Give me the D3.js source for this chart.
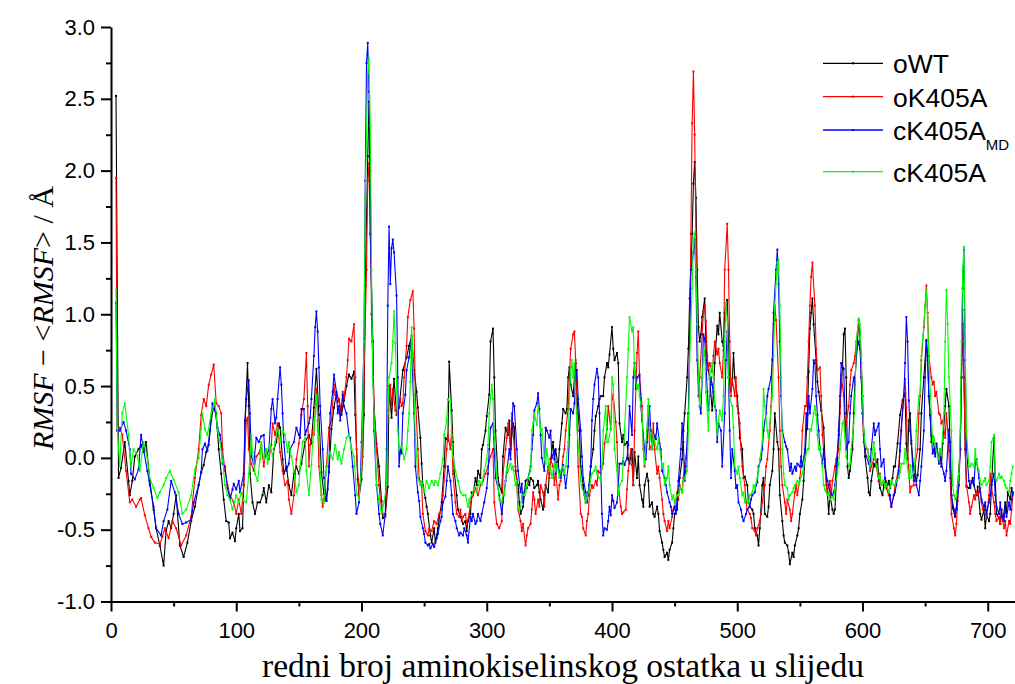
<!DOCTYPE html>
<html><head><meta charset="utf-8">
<script src="https://cdn.jsdelivr.net/npm/d3@7"></script>
<style>body{margin:0;background:#fff}svg{display:block}</style>
</head><body>
<svg id="c" width="1015" height="684"></svg>
<script>
// ---- data: [residue, RMSF - <RMSF>] ----
const oWT = [[4,2.52],[6,-0.14],[8,-0.07],[11,0.11],[14,-0.16],[15,-0.26],[17,-0.16],[19,0.01],[22,0.06],[24,0.09],[26,0.04],[28,0.11],[31,-0.16],[34,-0.36],[36,-0.49],[39,-0.61],[42,-0.75],[44,-0.51],[46,-0.44],[48,-0.49],[50,-0.39],[52,-0.26],[55,-0.61],[58,-0.69],[61,-0.59],[64,-0.44],[67,-0.34],[70,-0.19],[72,-0.1],[74,-0.05],[76,0.04],[78,0.09],[80,0.26],[82,0.36],[84,0.31],[86,0.06],[88,-0.11],[90,-0.29],[92,-0.44],[94,-0.45],[95,-0.56],[97,-0.52],[99,-0.58],[100,-0.49],[102,-0.39],[103,-0.51],[105,-0.49],[106,-0.19],[107,0.26],[109,0.66],[110,0.36],[111,-0.11],[113,-0.31],[115,-0.39],[117,-0.31],[119,-0.31],[121,-0.26],[122,-0.21],[124,-0.31],[126,-0.19],[128,-0.24],[130,0.06],[132,0.11],[134,0.24],[135,0.21],[137,-0.01],[138,-0.11],[140,-0.06],[142,-0.19],[144,-0.26],[146,-0.11],[148,-0.06],[150,-0.11],[152,-0.04],[155,0.11],[158,0.16],[160,0.1],[162,0.35],[164,0.62],[166,0.3],[168,-0.1],[170,-0.25],[172,-0.3],[174,-0.1],[176,0.2],[178,0.35],[180,0.45],[182,0.4],[184,0.3],[186,0.4],[188,0.5],[190,0.58],[192,0.55],[194,0.6],[195,0.3],[197,-0.15],[198,-0.25],[200,-0.15],[202,0.3],[203,1.2],[205,2.1],[206,2.48],[207,2.0],[208,1.0],[210,0.35],[212,0.1],[214,-0.06],[216,-0.3],[217,-0.42],[219,-0.4],[221,-0.2],[222,0.5],[224,0.28],[226,0.55],[228,0.3],[230,0.35],[233,0.61],[236,0.7],[238,0.78],[240,0.85],[242,0.61],[244,0.46],[245,0.35],[247,0.14],[248,-0.04],[249,-0.19],[251,-0.28],[252,-0.34],[253,-0.39],[255,-0.54],[256,-0.59],[258,-0.49],[259,-0.59],[261,-0.49],[262,-0.42],[264,-0.31],[266,-0.06],[267,0.14],[269,0.12],[270,0.67],[272,0.33],[273,0.11],[274,-0.09],[276,-0.26],[277,-0.36],[279,-0.41],[281,-0.46],[283,-0.44],[284,-0.51],[285,-0.44],[287,-0.39],[288,-0.24],[289,-0.26],[291,-0.14],[292,-0.19],[293,-0.09],[295,-0.14],[296,0.06],[297,0.09],[299,0.19],[300,0.29],[302,0.44],[303,0.81],[305,0.9],[306,0.56],[307,0.19],[309,-0.14],[310,-0.19],[312,-0.24],[313,0.01],[315,0.21],[317,0.16],[318,0.26],[319,0.06],[321,0.24],[322,0.21],[323,-0.09],[325,-0.19],[326,-0.31],[327,-0.39],[329,-0.34],[330,-0.26],[331,-0.16],[333,-0.14],[334,-0.19],[335,-0.14],[337,-0.16],[338,-0.21],[340,-0.19],[341,-0.16],[342,-0.24],[343,-0.29],[345,-0.36],[346,-0.26],[347,-0.19],[349,-0.24],[350,-0.11],[351,-0.01],[353,0.11],[354,-0.01],[355,0.06],[357,-0.06],[358,0.06],[360,0.24],[361,0.34],[363,0.31],[364,0.34],[365,0.56],[366,0.63],[367,0.51],[369,0.43],[370,0.56],[371,0.66],[372,0.43],[374,0.19],[375,-0.06],[377,-0.19],[378,-0.26],[379,-0.31],[381,-0.26],[382,-0.19],[383,-0.06],[385,0.06],[386,0.19],[387,0.29],[389,0.36],[390,0.41],[391,0.43],[393,0.43],[394,0.56],[396,0.66],[397,0.63],[398,0.72],[400,0.91],[401,0.76],[402,0.68],[404,0.73],[405,0.66],[406,0.24],[408,0.11],[409,0.16],[410,0.09],[412,0.11],[413,-0.01],[414,-0.04],[416,0.06],[417,-0.19],[418,0.04],[420,-0.14],[421,0.01],[422,-0.19],[424,-0.29],[425,-0.34],[426,-0.19],[428,-0.11],[429,-0.16],[430,-0.34],[432,-0.31],[433,-0.39],[434,-0.41],[436,-0.34],[437,-0.39],[438,-0.51],[440,-0.59],[441,-0.64],[442,-0.69],[444,-0.66],[445,-0.71],[446,-0.64],[448,-0.59],[449,-0.49],[450,-0.39],[452,-0.36],[453,-0.24],[454,-0.14],[456,-0.01],[457,0.19],[458,0.31],[460,0.56],[461,0.76],[462,1.11],[464,1.56],[465,1.91],[466,2.06],[467,1.81],[468,1.31],[469,0.91],[470,0.81],[471,0.86],[472,0.98],[474,1.11],[475,0.81],[476,0.66],[477,0.61],[478,0.55],[480,0.33],[481,0.46],[482,0.66],[484,0.92],[485,0.86],[486,1.01],[488,0.81],[489,0.78],[490,1.01],[492,1.1],[493,0.81],[494,0.46],[496,0.51],[497,0.73],[498,0.56],[500,0.43],[501,0.31],[502,0.14],[504,0.06],[505,-0.14],[506,-0.13],[508,-0.19],[509,-0.31],[510,-0.34],[512,-0.36],[513,-0.39],[514,-0.49],[516,-0.54],[517,-0.61],[518,-0.49],[520,-0.19],[521,-0.14],[522,-0.39],[524,-0.41],[525,-0.34],[526,-0.19],[528,-0.09],[529,0.06],[530,0.31],[532,0.11],[533,0.06],[534,-0.26],[536,-0.44],[537,-0.54],[538,-0.59],[540,-0.61],[541,-0.66],[542,-0.74],[544,-0.66],[545,-0.69],[546,-0.61],[548,-0.54],[549,-0.49],[550,-0.39],[552,-0.29],[553,-0.16],[554,-0.01],[556,0.3],[557,0.6],[558,0.9],[559,1.01],[560,1.11],[561,0.93],[563,0.68],[564,0.53],[565,0.46],[567,0.33],[569,0.21],[570,-0.01],[572,-0.24],[573,-0.39],[574,-0.26],[576,-0.36],[577,-0.39],[578,-0.36],[580,0.0],[581,0.19],[582,0.36],[584,0.63],[585,0.86],[586,0.9],[587,0.56],[588,-0.06],[589,-0.14],[590,-0.09],[592,0.06],[593,0.31],[594,0.56],[596,0.81],[597,0.96],[598,0.88],[599,0.66],[600,0.43],[601,0.16],[602,0.01],[604,-0.14],[605,-0.24],[606,-0.26],[607,-0.16],[609,-0.04],[610,-0.06],[612,-0.01],[613,-0.16],[614,-0.21],[616,-0.26],[617,-0.19],[618,-0.14],[620,-0.19],[621,-0.16],[622,-0.21],[624,-0.14],[625,-0.06],[626,-0.06],[628,0.1],[630,0.3],[632,0.4],[634,0.45],[635,0.1],[636,-0.01],[637,0.26],[638,0.31],[639,0.1],[641,-0.09],[643,-0.16],[644,-0.12],[646,0.06],[647,0.31],[649,0.56],[651,0.82],[652,0.68],[653,0.43],[654,0.3],[655,0.11],[656,0.15],[658,0.03],[659,0.1],[661,-0.01],[662,0.02],[663,-0.06],[664,0.1],[666,0.36],[667,0.48],[669,0.36],[670,0.05],[671,-0.26],[672,-0.35],[674,-0.41],[675,-0.35],[676,-0.2],[678,0.06],[679,0.56],[680,0.93],[681,0.56],[682,0.06],[683,-0.2],[685,-0.21],[686,-0.2],[688,-0.14],[689,-0.19],[691,-0.26],[692,-0.2],[694,-0.39],[695,-0.43],[697,-0.36],[698,-0.49],[699,-0.4],[701,-0.44],[702,-0.39],[703,-0.19],[705,0.14],[706,-0.15],[707,-0.39],[709,-0.42],[710,-0.46],[711,-0.36],[712,-0.44],[714,-0.31],[715,-0.38],[716,-0.24],[718,-0.29],[719,-0.21],[720,-0.25]];

const oK405A = [[4,1.95],[5,0.19],[7,0.21],[9,0.16],[12,-0.09],[15,-0.31],[17,-0.29],[20,-0.34],[23,-0.29],[24,-0.28],[27,-0.4],[30,-0.49],[32,-0.55],[35,-0.59],[39,-0.6],[41,-0.55],[43,-0.49],[46,-0.56],[49,-0.44],[52,-0.49],[56,-0.61],[60,-0.54],[64,-0.41],[67,-0.14],[70,0.06],[72,0.3],[74,0.41],[76,0.36],[78,0.51],[80,0.58],[82,0.65],[84,0.38],[86,0.36],[88,0.31],[89,0.06],[91,-0.09],[93,-0.19],[95,-0.26],[98,-0.31],[100,-0.39],[102,-0.29],[104,-0.39],[106,-0.19],[108,0.26],[109,0.28],[110,0.06],[112,-0.04],[114,-0.09],[116,0.01],[118,0.03],[120,0.09],[122,-0.06],[124,0.06],[126,-0.01],[128,0.09],[129,0.24],[131,0.16],[133,0.24],[135,0.04],[137,-0.09],[139,-0.19],[141,-0.16],[142,-0.29],[144,-0.39],[146,-0.26],[148,-0.01],[150,0.1],[152,0.3],[154,0.41],[156,0.73],[157,0.36],[158,-0.06],[159,0.09],[161,0.19],[162,0.16],[164,0.48],[165,0.26],[166,-0.06],[168,-0.26],[169,-0.34],[170,-0.29],[172,-0.06],[174,0.21],[176,0.26],[178,0.51],[179,0.44],[181,0.39],[182,0.41],[184,0.31],[185,0.46],[186,0.41],[188,0.56],[189,0.68],[190,0.83],[192,0.81],[194,0.93],[195,0.56],[196,0.06],[198,-0.26],[199,-0.19],[201,0.01],[202,0.56],[204,1.31],[205,1.93],[206,2.05],[207,1.56],[209,0.81],[210,0.36],[212,0.06],[214,-0.19],[215,-0.29],[217,-0.39],[219,-0.41],[220,-0.19],[221,0.31],[223,0.51],[224,0.36],[225,0.48],[227,0.33],[229,0.3],[231,0.41],[232,0.36],[233,0.38],[234,0.56],[236,0.78],[237,0.98],[239,1.1],[241,1.16],[242,0.9],[243,0.44],[245,0.06],[246,-0.14],[248,-0.19],[249,-0.39],[251,-0.51],[253,-0.54],[254,-0.49],[256,-0.51],[258,-0.44],[260,-0.46],[262,-0.39],[264,-0.36],[265,-0.26],[267,-0.06],[268,0.06],[269,0.16],[271,0.06],[272,0.19],[273,-0.11],[275,-0.31],[276,-0.39],[278,-0.41],[279,-0.36],[280,-0.44],[281,-0.41],[283,-0.39],[284,-0.46],[286,-0.39],[287,-0.31],[289,-0.26],[291,-0.21],[293,-0.26],[295,-0.19],[297,-0.16],[299,-0.11],[301,-0.06],[303,0.01],[305,0.06],[306,-0.31],[308,-0.46],[310,-0.49],[312,-0.44],[313,-0.11],[315,0.06],[316,0.14],[317,0.24],[319,0.06],[320,0.31],[321,0.19],[323,-0.06],[324,-0.19],[325,-0.36],[327,-0.44],[328,-0.51],[329,-0.46],[331,-0.61],[332,-0.54],[333,-0.49],[335,-0.46],[336,-0.36],[337,-0.24],[338,-0.29],[339,-0.39],[341,-0.29],[342,-0.34],[343,-0.19],[345,-0.24],[346,-0.34],[347,-0.19],[349,-0.06],[350,-0.14],[351,-0.01],[353,-0.06],[354,-0.19],[355,-0.09],[357,-0.29],[358,-0.19],[359,-0.16],[361,0.01],[362,0.06],[363,0.19],[365,0.34],[366,0.56],[367,0.76],[369,0.86],[370,0.88],[371,0.68],[372,0.31],[373,-0.06],[375,-0.39],[376,-0.41],[377,-0.49],[379,-0.54],[380,-0.44],[381,-0.39],[382,-0.26],[384,-0.19],[385,-0.21],[387,-0.16],[388,-0.19],[389,-0.09],[391,-0.11],[393,-0.04],[394,0.1],[396,0.2],[397,0.36],[399,0.2],[400,0.41],[401,0.44],[403,0.25],[404,0.11],[405,-0.19],[407,-0.34],[408,-0.39],[409,-0.38],[411,-0.36],[412,-0.22],[413,-0.09],[415,0.06],[416,-0.05],[417,-0.19],[418,0.19],[420,0.73],[421,0.88],[422,0.56],[424,0.36],[425,0.06],[426,-0.06],[428,0.19],[429,0.36],[430,0.06],[432,0.1],[433,0.24],[434,0.06],[436,-0.11],[437,-0.06],[438,-0.14],[440,-0.29],[441,-0.39],[442,-0.44],[444,-0.51],[445,-0.44],[446,-0.49],[448,-0.41],[449,-0.36],[450,-0.34],[452,-0.24],[453,-0.29],[454,-0.19],[456,-0.24],[457,-0.14],[458,-0.04],[460,0.06],[461,0.31],[462,0.81],[463,1.56],[464,2.33],[465,2.69],[466,2.25],[467,1.56],[468,0.81],[469,0.43],[470,0.56],[472,0.86],[473,1.02],[474,1.06],[475,0.95],[476,0.71],[477,0.62],[478,0.66],[480,0.6],[481,0.71],[482,0.81],[484,0.72],[485,0.76],[486,0.66],[488,0.56],[489,0.75],[490,1.31],[492,1.63],[493,1.31],[494,0.81],[495,0.43],[496,0.55],[498,0.43],[499,0.56],[500,0.36],[502,0.24],[503,0.06],[504,-0.06],[506,-0.19],[507,-0.31],[508,-0.36],[510,-0.39],[511,-0.42],[512,-0.49],[514,-0.51],[515,-0.54],[516,-0.49],[518,-0.44],[519,-0.39],[520,-0.31],[522,-0.19],[523,-0.06],[524,-0.01],[526,0.19],[527,0.36],[528,0.68],[529,0.93],[530,1.06],[531,0.96],[533,0.56],[534,0.19],[535,-0.06],[536,-0.19],[538,-0.31],[539,-0.39],[540,-0.29],[542,-0.36],[543,-0.44],[544,-0.39],[546,-0.24],[547,-0.19],[548,-0.26],[550,-0.14],[551,-0.06],[552,0.19],[554,0.36],[555,0.36],[556,0.56],[557,0.81],[558,1.06],[559,1.26],[560,1.36],[562,1.06],[563,0.76],[564,0.61],[566,0.63],[567,0.43],[568,0.16],[570,-0.06],[571,-0.19],[572,-0.24],[574,-0.16],[575,-0.26],[576,-0.16],[578,-0.06],[579,-0.01],[581,0.06],[582,0.31],[583,0.58],[585,0.43],[586,0.19],[587,0.25],[589,0.36],[590,0.51],[591,0.61],[593,0.66],[594,0.71],[595,0.81],[597,0.95],[598,0.86],[599,0.56],[600,0.31],[601,0.11],[602,0.06],[604,0.06],[605,0.01],[606,-0.09],[607,-0.06],[609,-0.01],[610,0.03],[611,-0.06],[613,-0.16],[614,-0.11],[615,-0.19],[617,-0.16],[618,-0.14],[619,-0.21],[621,-0.26],[622,-0.29],[623,-0.34],[625,-0.26],[626,-0.19],[627,-0.16],[629,-0.06],[630,0.1],[632,0.35],[634,0.55],[635,0.35],[636,0.05],[638,-0.24],[639,-0.2],[641,-0.19],[642,-0.05],[644,0.06],[645,0.31],[646,0.43],[647,0.68],[649,0.91],[650,1.06],[651,1.2],[652,1.01],[653,0.71],[655,0.56],[656,0.51],[657,0.53],[658,0.43],[659,0.46],[661,0.31],[662,0.3],[663,0.24],[664,0.26],[666,0.14],[667,0.31],[668,0.2],[670,-0.14],[671,-0.39],[673,-0.49],[674,-0.54],[675,-0.46],[676,-0.3],[678,0.06],[679,0.56],[680,1.03],[681,0.56],[682,0.06],[683,-0.19],[685,-0.31],[686,-0.39],[687,-0.34],[689,-0.26],[690,-0.29],[691,-0.24],[692,-0.26],[694,-0.21],[695,-0.31],[696,-0.36],[698,-0.34],[699,-0.41],[701,-0.26],[702,-0.11],[703,-0.21],[705,-0.31],[706,-0.39],[707,-0.44],[709,-0.41],[710,-0.46],[711,-0.39],[713,-0.49],[714,-0.44],[715,-0.54],[717,-0.44],[718,-0.46],[719,-0.36],[720,-0.26]];

const cK405A_MD = [[4,1.08],[5,0.19],[7,0.19],[10,0.25],[12,0.19],[15,0.06],[16,-0.11],[19,-0.15],[22,-0.08],[24,0.16],[26,0.06],[29,-0.09],[31,-0.19],[34,-0.34],[36,-0.49],[40,-0.54],[42,-0.44],[45,-0.36],[48,-0.16],[51,-0.24],[54,-0.39],[57,-0.46],[60,-0.45],[64,-0.43],[66,-0.31],[70,-0.19],[72,-0.1],[73,0.06],[75,0.1],[77,0.05],[79,0.19],[81,0.38],[83,0.33],[85,0.21],[87,0.16],[88,0.1],[89,-0.04],[91,-0.06],[93,-0.21],[95,-0.29],[97,-0.22],[98,-0.18],[100,-0.22],[102,-0.16],[103,-0.24],[106,-0.11],[107,0.24],[108,0.41],[110,0.54],[111,0.31],[112,0.01],[114,-0.04],[116,0.14],[118,0.11],[120,0.15],[122,0.16],[123,0.01],[126,0.05],[128,0.34],[129,0.41],[131,0.24],[132,0.28],[133,0.41],[135,0.63],[136,0.51],[137,0.31],[138,0.11],[140,-0.09],[142,-0.04],[143,0.06],[146,0.11],[148,0.21],[150,0.16],[151,0.14],[152,0.34],[154,0.34],[155,0.16],[156,0.19],[158,0.24],[159,0.28],[160,0.41],[162,0.71],[163,0.91],[164,1.02],[165,0.88],[166,0.63],[167,0.36],[169,0.06],[170,-0.14],[172,-0.29],[173,-0.22],[174,-0.06],[175,0.31],[177,0.46],[178,0.58],[180,0.46],[181,0.31],[182,0.36],[183,0.26],[185,0.44],[186,0.36],[188,0.31],[190,0.16],[191,0.14],[193,-0.06],[195,-0.26],[196,-0.39],[198,-0.31],[199,-0.19],[200,0.11],[202,0.81],[203,1.93],[204,2.75],[205,2.89],[206,2.55],[207,1.56],[209,0.81],[210,0.19],[212,-0.19],[214,-0.39],[215,-0.46],[217,-0.54],[219,-0.39],[220,0.06],[221,1.06],[222,1.61],[223,1.21],[224,1.46],[225,1.52],[226,1.43],[228,1.13],[229,0.56],[230,-0.06],[231,0.06],[232,0.03],[233,0.31],[235,0.44],[236,0.61],[238,0.7],[239,0.8],[240,0.75],[242,0.31],[243,-0.06],[245,-0.24],[246,-0.3],[247,-0.41],[249,-0.49],[250,-0.53],[251,-0.59],[253,-0.61],[254,-0.6],[255,-0.63],[257,-0.6],[258,-0.62],[260,-0.56],[261,-0.53],[263,-0.44],[264,-0.41],[265,-0.31],[267,-0.27],[268,-0.16],[269,-0.06],[271,-0.16],[272,-0.26],[273,-0.39],[275,-0.44],[276,-0.49],[278,-0.54],[279,-0.52],[281,-0.54],[282,-0.49],[284,-0.54],[285,-0.59],[287,-0.41],[288,-0.44],[289,-0.39],[291,-0.46],[292,-0.44],[293,-0.39],[295,-0.44],[296,-0.39],[298,-0.31],[300,-0.21],[301,-0.11],[302,0.06],[303,0.21],[305,0.24],[306,0.06],[307,-0.14],[309,-0.21],[310,-0.26],[312,-0.39],[313,-0.31],[315,-0.16],[316,-0.1],[318,0.06],[319,-0.01],[320,0.2],[321,0.38],[322,0.36],[324,0.06],[325,-0.09],[327,-0.24],[328,-0.18],[329,-0.31],[330,-0.24],[332,-0.21],[333,-0.14],[335,-0.06],[336,0.06],[337,0.16],[338,0.33],[340,0.38],[341,0.45],[342,0.34],[343,0.16],[344,0.0],[346,-0.09],[347,0.21],[348,0.19],[350,0.14],[351,0.19],[352,0.0],[354,0.05],[355,-0.11],[356,-0.03],[358,-0.09],[359,-0.14],[361,-0.05],[362,-0.12],[363,-0.21],[365,-0.06],[366,0.16],[367,0.34],[369,0.31],[370,0.38],[371,0.56],[372,0.61],[373,0.41],[375,0.19],[376,0.01],[377,-0.14],[379,-0.24],[380,-0.31],[381,-0.24],[383,-0.06],[384,0.26],[385,0.41],[386,0.51],[388,0.62],[389,0.56],[390,0.31],[391,-0.06],[392,-0.39],[393,-0.54],[394,-0.49],[396,-0.5],[397,-0.44],[398,-0.34],[399,-0.4],[400,-0.26],[401,-0.3],[402,-0.35],[404,-0.31],[405,-0.19],[406,-0.04],[408,-0.04],[409,-0.02],[410,-0.05],[412,0.0],[413,0.09],[414,0.36],[416,0.16],[417,0.56],[418,0.66],[419,0.48],[420,0.56],[422,0.58],[423,0.36],[424,0.26],[426,0.06],[427,-0.01],[428,0.11],[430,0.36],[431,0.19],[432,0.06],[434,0.16],[435,0.13],[436,0.24],[438,0.1],[439,0.06],[440,-0.09],[442,-0.14],[443,-0.19],[444,-0.24],[446,-0.31],[447,-0.34],[448,-0.39],[450,-0.34],[451,-0.39],[452,-0.29],[453,-0.16],[455,0.06],[456,0.24],[457,0.11],[458,-0.16],[459,-0.06],[461,0.31],[462,0.81],[463,1.31],[465,1.43],[466,1.52],[467,1.26],[468,0.68],[470,0.36],[471,0.31],[472,0.56],[473,0.86],[474,0.83],[475,0.68],[476,0.46],[477,0.33],[478,0.43],[479,0.56],[480,0.51],[482,0.36],[483,0.33],[484,0.11],[485,0.24],[487,0.19],[488,-0.06],[490,0.31],[491,0.68],[492,0.88],[493,0.56],[494,0.19],[495,-0.14],[496,0.06],[498,-0.09],[499,-0.21],[500,-0.19],[501,-0.31],[503,-0.36],[504,-0.41],[505,-0.44],[507,-0.39],[508,-0.36],[510,-0.34],[511,-0.29],[512,-0.26],[514,-0.24],[515,-0.19],[516,-0.17],[517,-0.06],[519,-0.01],[520,0.06],[521,0.19],[523,0.31],[524,0.43],[525,0.48],[527,0.56],[528,0.68],[529,1.01],[531,1.31],[532,1.45],[533,1.21],[534,0.81],[535,0.43],[536,0.19],[538,0.11],[539,0.08],[540,0.06],[542,-0.09],[543,-0.04],[544,-0.11],[546,-0.06],[547,-0.09],[548,-0.04],[550,-0.06],[551,0.01],[552,-0.06],[554,0.06],[555,0.31],[556,0.2],[557,0.43],[558,0.31],[560,0.48],[561,0.68],[562,0.66],[563,0.43],[564,0.3],[565,0.19],[566,0.06],[568,-0.04],[569,0.06],[570,-0.06],[572,-0.16],[573,-0.19],[574,-0.24],[576,-0.26],[577,-0.24],[578,-0.19],[579,-0.06],[581,0.16],[582,0.43],[583,0.66],[585,0.62],[586,0.31],[587,0.06],[589,0.11],[590,0.31],[591,0.43],[593,0.56],[594,0.51],[595,0.73],[597,0.81],[598,0.76],[599,0.56],[600,0.31],[601,0.19],[602,0.06],[603,0.01],[605,-0.04],[606,-0.06],[607,0.06],[609,0.24],[610,0.16],[611,0.19],[613,0.24],[614,0.06],[615,-0.06],[617,-0.01],[618,-0.14],[619,-0.19],[621,-0.24],[622,-0.26],[623,-0.34],[625,-0.26],[626,-0.24],[627,-0.19],[629,-0.09],[630,0.05],[631,0.19],[633,0.43],[634,0.66],[635,0.98],[636,0.81],[637,0.4],[638,0.19],[639,0.12],[640,-0.06],[641,-0.16],[642,-0.06],[643,-0.19],[645,-0.26],[646,-0.16],[647,-0.06],[649,0.19],[650,0.56],[651,0.81],[652,0.71],[653,0.43],[655,0.16],[656,0.03],[657,0.06],[658,0.01],[659,0.09],[661,-0.04],[662,0.06],[663,-0.04],[665,-0.11],[666,-0.16],[667,-0.09],[669,0.19],[670,0.11],[671,-0.26],[673,-0.36],[674,-0.39],[675,-0.36],[677,-0.19],[678,0.06],[679,0.56],[680,1.18],[681,1.45],[682,0.68],[683,0.06],[685,-0.16],[686,-0.21],[687,-0.16],[689,-0.19],[690,-0.04],[691,-0.01],[693,-0.14],[694,-0.24],[695,-0.29],[697,-0.34],[698,-0.31],[699,-0.39],[701,-0.31],[702,-0.26],[703,-0.19],[705,-0.11],[706,-0.26],[707,-0.34],[709,-0.39],[710,-0.31],[711,-0.41],[713,-0.44],[714,-0.34],[715,-0.41],[717,-0.31],[718,-0.36],[719,-0.29],[720,-0.24]];

const cK405A = [[4,1.17],[5,0.21],[7,-0.06],[9,0.31],[11,0.38],[14,0.16],[16,-0.06],[18,0.06],[21,0.02],[23,-0.09],[26,0.11],[29,0.0],[31,-0.14],[34,-0.21],[37,-0.28],[39,-0.24],[42,-0.19],[44,-0.14],[47,-0.09],[50,-0.15],[54,-0.24],[57,-0.39],[60,-0.36],[64,-0.26],[67,-0.08],[70,0.0],[72,0.2],[73,0.31],[75,0.2],[77,0.16],[80,0.31],[82,0.36],[83,0.41],[85,0.19],[87,0.11],[89,-0.01],[91,-0.19],[93,-0.26],[95,-0.29],[97,-0.36],[100,-0.26],[102,-0.31],[104,-0.24],[106,-0.3],[108,-0.31],[110,-0.11],[112,0.16],[113,0.04],[115,-0.11],[117,-0.16],[119,-0.01],[120,0.11],[122,-0.01],[124,0.06],[125,-0.04],[127,0.09],[129,0.01],[131,0.11],[133,0.21],[135,0.11],[137,0.19],[139,0.16],[141,0.04],[142,0.11],[144,0.01],[146,-0.09],[148,-0.24],[150,-0.19],[151,-0.06],[153,0.11],[155,0.14],[156,-0.09],[158,-0.26],[160,-0.05],[161,0.11],[162,0.19],[164,0.44],[166,0.14],[167,-0.09],[168,-0.29],[170,-0.31],[171,-0.16],[173,-0.01],[175,0.04],[177,-0.01],[179,0.09],[181,-0.01],[182,0.04],[184,-0.04],[186,0.06],[188,0.14],[190,0.16],[192,0.06],[194,0.01],[196,-0.24],[198,-0.29],[200,-0.06],[202,0.81],[203,1.81],[205,2.68],[206,2.78],[207,2.31],[208,1.31],[209,0.56],[211,0.06],[212,-0.19],[214,-0.31],[216,-0.39],[218,-0.31],[220,-0.19],[221,0.31],[222,0.56],[224,0.66],[225,0.81],[226,1.02],[227,0.8],[229,0.19],[230,0.06],[232,0.08],[234,-0.01],[236,0.06],[237,0.19],[238,0.31],[239,0.53],[240,0.91],[241,0.71],[243,0.14],[244,0.01],[245,-0.14],[247,-0.19],[248,-0.16],[250,-0.24],[252,-0.16],[254,-0.21],[256,-0.16],[258,-0.19],[259,-0.16],[261,-0.19],[263,-0.11],[265,-0.01],[266,0.16],[268,0.26],[269,0.41],[271,0.39],[272,0.16],[273,0.01],[275,-0.09],[277,-0.16],[279,-0.24],[281,-0.26],[283,-0.26],[285,-0.34],[286,-0.29],[288,-0.26],[290,-0.21],[292,-0.24],[294,-0.16],[296,-0.19],[298,-0.09],[300,-0.01],[301,0.09],[302,0.31],[304,0.51],[305,0.41],[306,0.16],[308,-0.14],[309,-0.21],[310,-0.29],[312,-0.31],[313,-0.26],[314,-0.26],[316,-0.06],[317,-0.09],[319,-0.04],[320,-0.08],[321,-0.06],[323,-0.19],[324,-0.16],[325,-0.36],[327,-0.34],[328,-0.26],[330,-0.26],[331,-0.24],[332,-0.19],[333,-0.14],[335,-0.09],[336,0.19],[337,0.24],[338,0.31],[340,0.23],[341,0.36],[342,0.31],[343,0.18],[344,0.2],[346,-0.01],[347,-0.04],[348,0.06],[350,-0.09],[351,-0.06],[352,-0.14],[354,-0.04],[355,-0.09],[356,-0.04],[358,-0.14],[359,-0.09],[361,-0.06],[362,-0.11],[363,-0.06],[365,0.11],[366,0.43],[367,0.58],[368,0.68],[369,0.56],[370,0.66],[371,0.43],[372,0.21],[374,-0.01],[375,-0.16],[376,-0.21],[378,-0.26],[379,-0.31],[380,-0.28],[382,-0.21],[383,-0.14],[384,-0.11],[386,-0.09],[387,-0.06],[388,-0.11],[390,-0.14],[391,-0.16],[392,-0.06],[393,0.19],[395,0.36],[396,0.11],[397,0.11],[399,0.2],[400,0.56],[401,0.51],[402,0.06],[404,-0.09],[405,-0.26],[406,-0.19],[408,-0.16],[409,0.0],[410,0.19],[412,0.56],[413,0.76],[414,0.98],[416,0.88],[417,0.91],[418,0.58],[420,0.48],[421,0.51],[422,0.43],[424,0.31],[425,0.06],[426,-0.04],[428,0.21],[429,0.41],[430,0.21],[432,0.06],[433,0.16],[434,0.11],[436,0.06],[437,0.14],[438,0.06],[440,-0.06],[441,-0.04],[442,-0.19],[444,-0.14],[445,-0.06],[446,-0.19],[448,-0.29],[449,-0.26],[450,-0.31],[452,-0.26],[453,-0.26],[454,-0.21],[456,-0.24],[457,-0.16],[458,-0.14],[460,-0.09],[461,0.19],[462,0.68],[464,1.18],[465,1.51],[466,1.57],[467,1.31],[468,0.93],[469,0.56],[470,0.36],[472,0.56],[473,0.7],[474,0.76],[475,0.46],[477,0.19],[478,0.56],[480,0.66],[481,0.56],[482,0.38],[484,0.16],[485,0.26],[486,0.33],[488,0.26],[489,0.43],[490,0.81],[491,1.08],[492,0.96],[493,0.56],[494,0.41],[496,0.36],[497,0.21],[498,-0.06],[500,-0.11],[501,-0.06],[502,-0.14],[504,-0.26],[505,-0.24],[506,-0.31],[508,-0.29],[509,-0.31],[510,-0.26],[512,-0.24],[513,-0.19],[514,-0.21],[516,-0.14],[517,-0.09],[518,-0.01],[520,0.11],[521,0.48],[522,0.36],[524,0.19],[525,0.14],[526,0.24],[528,0.43],[529,0.71],[530,1.06],[532,1.36],[533,1.38],[534,1.06],[535,0.56],[536,0.06],[537,-0.11],[538,-0.19],[540,-0.21],[541,-0.29],[542,-0.26],[544,-0.24],[545,-0.21],[546,-0.19],[548,-0.16],[549,-0.19],[550,-0.16],[552,-0.11],[553,-0.06],[554,-0.01],[556,0.06],[557,0.06],[558,0.2],[559,0.19],[561,0.31],[562,0.36],[563,0.3],[564,0.16],[565,0.06],[566,0.08],[568,-0.06],[569,-0.19],[570,-0.22],[572,-0.26],[573,-0.24],[574,-0.29],[576,-0.27],[577,-0.29],[578,-0.21],[580,-0.1],[581,-0.04],[582,0.06],[584,0.24],[585,0.26],[586,0.14],[587,0.01],[589,-0.06],[590,-0.04],[591,0.06],[593,0.24],[594,0.43],[595,0.81],[597,0.97],[598,0.93],[599,0.71],[600,0.43],[601,0.19],[602,0.1],[604,0.06],[605,0.0],[606,-0.06],[607,-0.04],[609,0.11],[610,0.0],[611,-0.06],[613,-0.14],[614,-0.12],[615,-0.19],[617,-0.16],[618,-0.21],[619,-0.18],[621,-0.24],[622,-0.2],[623,-0.16],[625,-0.19],[626,-0.19],[627,-0.16],[629,-0.14],[630,-0.1],[631,-0.04],[633,-0.04],[634,0.06],[635,0.0],[637,-0.14],[638,-0.05],[639,-0.14],[641,-0.1],[642,-0.01],[643,0.19],[645,0.43],[646,0.45],[647,0.71],[649,0.93],[650,1.06],[651,1.17],[652,0.98],[653,0.68],[655,0.31],[656,0.11],[657,0.14],[658,0.09],[659,0.05],[661,-0.01],[662,0.06],[663,0.02],[665,0.31],[666,0.81],[667,1.17],[668,0.93],[669,0.56],[671,0.19],[672,-0.19],[673,-0.26],[674,-0.29],[675,-0.26],[677,-0.11],[678,0.19],[679,0.81],[680,1.31],[681,1.47],[682,0.81],[683,0.19],[685,-0.06],[686,-0.06],[687,-0.04],[689,-0.06],[690,0.06],[691,-0.04],[693,-0.09],[694,-0.16],[695,-0.19],[697,-0.16],[698,-0.14],[699,-0.19],[701,-0.16],[702,-0.06],[703,0.11],[705,0.16],[706,-0.14],[707,-0.16],[709,-0.11],[710,-0.14],[711,-0.13],[713,-0.16],[714,-0.19],[715,-0.21],[717,-0.24],[718,-0.16],[719,-0.11],[720,-0.06]];

const seriesLabels = ["oWT", "oK405A", "cK405A", "cK405A"];
const seriesSubs   = ["", "", "MD", ""];
const seriesColors = ["#000000", "#ff0000", "#0000ff", "#00ff00"];
const xMajorTicks = [0, 100, 200, 300, 400, 500, 600, 700];
const xMinorTicks = [50, 150, 250, 350, 450, 550, 650];
const yMajorTicks = [-1.0, -0.5, 0.0, 0.5, 1.0, 1.5, 2.0, 2.5, 3.0];
const yMinorTicks = [-0.75, -0.25, 0.25, 0.75, 1.25, 1.75, 2.25, 2.75];
const xTitle = "redni broj aminokiselinskog ostatka u slijedu";

// ---- drawing ----
const series = [oWT, oK405A, cK405A_MD, cK405A];
const svg = d3.select("#c");
const x = d3.scaleLinear().domain([0, 722]).range([111, 1015.3]);
const y = d3.scaleLinear().domain([-1, 3]).range([601.5, 27]);
const sans = "'Liberation Sans', Arial, sans-serif";
const serif = "'Liberation Serif', 'Times New Roman', serif";

const line = d3.line().x(d => x(d[0])).y(d => y(d[1]));
const plot = svg.append("g");
series.forEach((s, i) => {
  const g = plot.append("g");
  g.append("path").datum(s).attr("d", line)
    .attr("fill", "none").attr("stroke", seriesColors[i])
    .attr("stroke-width", 1.1).attr("stroke-linejoin", "round");
  g.selectAll("rect").data(s).join("rect")
    .attr("x", d => x(d[0]) - 1).attr("y", d => y(d[1]) - 1)
    .attr("width", 2).attr("height", 2).attr("fill", seriesColors[i]);
});

function styleAxis(g) {
  g.select(".domain").attr("stroke", "#000").attr("stroke-width", 2);
  g.selectAll(".tick line").attr("stroke", "#000").attr("stroke-width", 2);
  g.selectAll(".tick text").attr("font-family", sans).attr("font-size", 22).attr("fill", "#000");
}
const gx = svg.append("g").attr("transform", `translate(0,${y(-1)})`)
  .call(d3.axisBottom(x).tickValues(xMajorTicks).tickSize(10).tickSizeOuter(0)
    .tickPadding(11).tickFormat(d3.format("d")));
styleAxis(gx);
const gxm = svg.append("g").attr("transform", `translate(0,${y(-1)})`)
  .call(d3.axisBottom(x).tickValues(xMinorTicks).tickSize(5).tickSizeOuter(0).tickFormat(""));
styleAxis(gxm); gxm.select(".domain").remove();

const gy = svg.append("g").attr("transform", `translate(${x(0)},0)`)
  .call(d3.axisLeft(y).tickValues(yMajorTicks).tickSize(10).tickSizeOuter(0)
    .tickPadding(6).tickFormat(d => d.toFixed(1)));
styleAxis(gy);
const gym = svg.append("g").attr("transform", `translate(${x(0)},0)`)
  .call(d3.axisLeft(y).tickValues(yMinorTicks).tickSize(5).tickSizeOuter(0).tickFormat(""));
styleAxis(gym); gym.select(".domain").remove();

// axis titles
svg.append("text").attr("x", 563).attr("y", 677).attr("text-anchor", "middle")
  .attr("font-family", serif).attr("font-size", 33.5).attr("fill", "#000").text(xTitle);
const yt = svg.append("text").attr("transform", "translate(53,318) rotate(-90)")
  .attr("text-anchor", "middle").attr("font-family", serif).attr("font-size", 30).attr("fill", "#000");
yt.append("tspan").attr("font-style", "italic").text("RMSF");
yt.append("tspan").text(" \u2212 <");
yt.append("tspan").attr("font-style", "italic").text("RMSF");
yt.append("tspan").text("> / \u00C5");

// legend
const legY = [63.3, 96.7, 130, 171.7];
seriesLabels.forEach((lab, i) => {
  const g = svg.append("g");
  g.append("line").attr("x1", 823).attr("x2", 883).attr("y1", legY[i]).attr("y2", legY[i])
    .attr("stroke", seriesColors[i]).attr("stroke-width", 1.3);
  g.append("rect").attr("x", 852).attr("y", legY[i] - 1).attr("width", 2).attr("height", 2)
    .attr("fill", seriesColors[i]);
  const t = g.append("text").attr("x", 893).attr("y", legY[i] + 10)
    .attr("font-family", sans).attr("font-size", 26.5).attr("fill", "#000");
  t.append("tspan").text(lab);
  if (seriesSubs[i]) t.append("tspan").attr("dy", 10).attr("font-size", 15).text(seriesSubs[i]);
});
</script>
</body></html>
